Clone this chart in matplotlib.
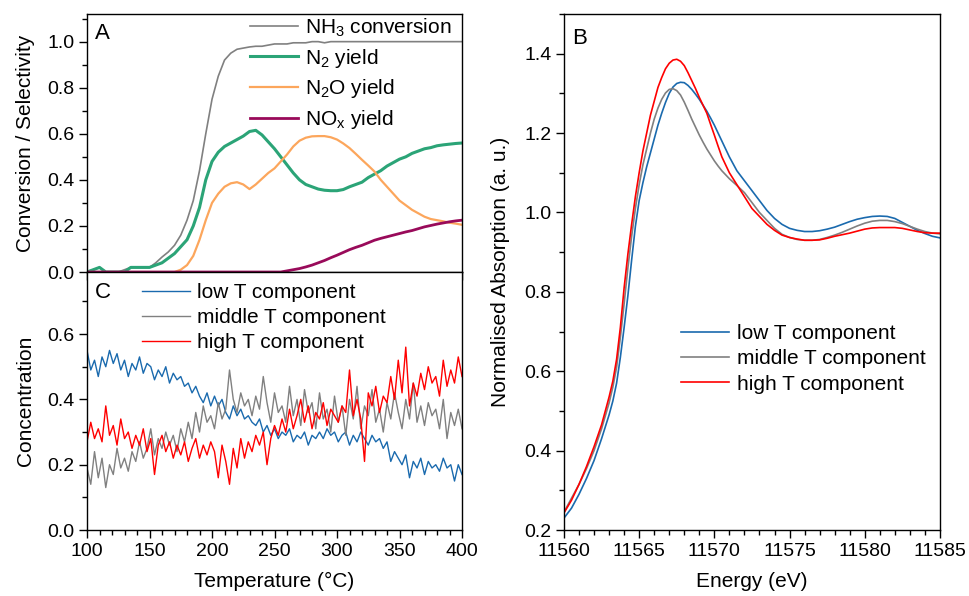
import numpy as np
import matplotlib
matplotlib.use("Agg")
import matplotlib.pyplot as plt
from matplotlib.ticker import MultipleLocator, FormatStrFormatter

plt.rcParams['font.family'] = ['Liberation Sans', 'DejaVu Sans']
plt.rcParams['mathtext.fontset'] = 'custom'
plt.rcParams['mathtext.rm'] = 'Liberation Sans'
plt.rcParams['mathtext.it'] = 'Liberation Sans'

# ---- panel A: catalytic data, 5 degC steps ----
temp_a = list(range(100, 401, 5))
nh3_conv = [0.00, 0.01, 0.02, 0.00, 0.00, 0.00, 0.01, 0.02, 0.02, 0.02,
            0.02, 0.04, 0.065, 0.087, 0.116, 0.16, 0.225, 0.31, 0.44, 0.60,
            0.75, 0.85, 0.92, 0.95, 0.967, 0.972, 0.977, 0.98, 0.98, 0.985,
            0.99, 0.99, 0.99, 0.995, 0.995, 0.995, 1.0, 1.0, 0.995, 1.0,
            1.0, 1.0, 1.0, 1.0, 1.0, 1.0, 1.0, 1.0, 1.0, 1.0,
            1.0, 1.0, 1.0, 1.0, 1.0, 1.0, 1.0, 1.0, 1.0, 1.0, 1.0]
n2_yield = [0.00, 0.01, 0.02, 0.00, 0.00, 0.00, 0.00, 0.02, 0.02, 0.02,
            0.02, 0.03, 0.04, 0.06, 0.08, 0.11, 0.14, 0.20, 0.28, 0.40,
            0.48, 0.52, 0.545, 0.56, 0.575, 0.59, 0.61, 0.615, 0.595, 0.565,
            0.535, 0.50, 0.465, 0.43, 0.40, 0.38, 0.37, 0.36, 0.355, 0.353,
            0.353, 0.358, 0.37, 0.38, 0.39, 0.41, 0.425, 0.44, 0.46, 0.475,
            0.49, 0.50, 0.515, 0.525, 0.535, 0.54, 0.548, 0.552, 0.555, 0.558, 0.56]
n2o_yield = [0.0, 0.0, 0.0, 0.0, 0.0, 0.0, 0.0, 0.0, 0.0, 0.0,
             0.0, 0.0, 0.0, 0.0, 0.0, 0.01, 0.03, 0.07, 0.14, 0.225,
             0.30, 0.34, 0.37, 0.385, 0.39, 0.38, 0.36, 0.38, 0.405, 0.43,
             0.45, 0.48, 0.51, 0.545, 0.57, 0.583, 0.589, 0.59, 0.59, 0.585,
             0.575, 0.558, 0.538, 0.513, 0.487, 0.462, 0.436, 0.40, 0.37, 0.34,
             0.31, 0.29, 0.27, 0.255, 0.24, 0.23, 0.225, 0.22, 0.214, 0.21, 0.205]
nox_yield = [0.0, 0.0, 0.0, 0.0, 0.0, 0.0, 0.0, 0.0, 0.0, 0.0,
             0.0, 0.0, 0.0, 0.0, 0.0, 0.0, 0.0, 0.0, 0.0, 0.0,
             0.0, 0.0, 0.0, 0.0, 0.0, 0.0, 0.0, 0.0, 0.0, 0.0,
             0.0, 0.0, 0.005, 0.01, 0.015, 0.022, 0.03, 0.04, 0.05, 0.062,
             0.073, 0.085, 0.097, 0.107, 0.116, 0.127, 0.138, 0.146, 0.153, 0.16,
             0.167, 0.174, 0.18, 0.188, 0.196, 0.202, 0.208, 0.213, 0.218, 0.222, 0.225]

# ---- panel C: component concentrations, 3 degC steps ----
temp_c = list(range(100, 401, 3))
low_t = [0.55, 0.49, 0.52, 0.47, 0.53, 0.50, 0.55, 0.51, 0.54, 0.49,
         0.52, 0.47, 0.51, 0.49, 0.53, 0.48, 0.51, 0.50, 0.46, 0.49,
         0.47, 0.50, 0.45, 0.48, 0.46, 0.47, 0.44, 0.45, 0.42, 0.44,
         0.41, 0.39, 0.42, 0.38, 0.41, 0.38, 0.40, 0.36, 0.34, 0.38,
         0.35, 0.37, 0.34, 0.35, 0.33, 0.32, 0.34, 0.30, 0.32, 0.29,
         0.31, 0.28, 0.30, 0.29, 0.31, 0.27, 0.29, 0.28, 0.30, 0.26,
         0.29, 0.28, 0.30, 0.28, 0.31, 0.29, 0.30, 0.27, 0.29, 0.30,
         0.26, 0.29, 0.27, 0.30, 0.28, 0.26, 0.29, 0.27, 0.28, 0.25,
         0.27, 0.21, 0.24, 0.22, 0.20, 0.23, 0.16, 0.21, 0.19, 0.22,
         0.17, 0.21, 0.19, 0.20, 0.18, 0.22, 0.19, 0.20, 0.15, 0.20, 0.17]
mid_t = [0.19, 0.14, 0.24, 0.16, 0.22, 0.13, 0.20, 0.17, 0.25, 0.19,
         0.22, 0.18, 0.24, 0.21, 0.27, 0.22, 0.25, 0.31, 0.23, 0.28,
         0.25, 0.30, 0.26, 0.29, 0.24, 0.31, 0.27, 0.33, 0.28, 0.36,
         0.30, 0.38, 0.33, 0.35, 0.31, 0.39, 0.34, 0.37, 0.49, 0.40,
         0.36, 0.42, 0.38, 0.40, 0.35, 0.41, 0.37, 0.47, 0.39, 0.33,
         0.42, 0.36, 0.38, 0.33, 0.44, 0.35, 0.40, 0.32, 0.43, 0.36,
         0.39, 0.31, 0.42, 0.34, 0.37, 0.30, 0.41, 0.33, 0.38, 0.29,
         0.40, 0.34, 0.44, 0.31, 0.38, 0.35, 0.43, 0.33, 0.37, 0.30,
         0.39, 0.34, 0.42, 0.36, 0.31, 0.40, 0.34, 0.45, 0.33, 0.38,
         0.32, 0.39, 0.35, 0.37, 0.31, 0.40, 0.28, 0.36, 0.32, 0.37, 0.31]
high_t = [0.27, 0.33, 0.28, 0.31, 0.27, 0.38, 0.29, 0.32, 0.26, 0.34,
          0.28, 0.30, 0.25, 0.29, 0.26, 0.31, 0.24, 0.28, 0.17, 0.26,
          0.29, 0.24, 0.27, 0.22, 0.26, 0.23, 0.27, 0.21, 0.25, 0.28,
          0.22, 0.26, 0.23, 0.27, 0.24, 0.16, 0.26, 0.21, 0.14, 0.25,
          0.19, 0.28, 0.22, 0.27, 0.24, 0.29, 0.26, 0.30, 0.20, 0.28,
          0.32, 0.29, 0.34, 0.30, 0.37, 0.31, 0.35, 0.40, 0.33, 0.38,
          0.31, 0.36, 0.34, 0.39, 0.32, 0.37, 0.35, 0.33, 0.38, 0.36,
          0.49, 0.35, 0.40, 0.34, 0.21, 0.42, 0.38, 0.44, 0.36, 0.41,
          0.39, 0.47, 0.40, 0.52, 0.42, 0.56, 0.38, 0.45, 0.41, 0.48,
          0.43, 0.50, 0.45, 0.47, 0.41, 0.52, 0.44, 0.49, 0.45, 0.53, 0.47]

# ---- panel B: XANES of components (finer steps around the white line) ----
energy = ([11560 + 0.5 * i for i in range(6)]
          + [11563 + 0.25 * i for i in range(32)]
          + [11571 + 0.5 * i for i in range(29)])
xanes_low = [0.23, 0.255, 0.29, 0.33, 0.375, 0.43,
             0.49, 0.525, 0.57, 0.635, 0.71, 0.79, 0.88, 0.965,
             1.03, 1.075, 1.115, 1.15, 1.185, 1.22, 1.25, 1.277,
             1.30, 1.316, 1.325, 1.328, 1.327, 1.32, 1.31, 1.298,
             1.285, 1.27, 1.255, 1.238, 1.22, 1.20, 1.18, 1.16,
             1.14, 1.105, 1.08, 1.055, 1.03, 1.005, 0.985, 0.97,
             0.96, 0.955, 0.952, 0.952, 0.954, 0.958, 0.963, 0.97, 0.977, 0.983,
             0.987, 0.99, 0.991, 0.99, 0.985, 0.975, 0.965, 0.955, 0.947, 0.94, 0.936]
xanes_mid = [0.245, 0.28, 0.315, 0.355, 0.40, 0.455,
             0.52, 0.56, 0.61, 0.685, 0.77, 0.86, 0.94, 1.01,
             1.07, 1.12, 1.16, 1.20, 1.235, 1.263, 1.285, 1.301,
             1.31, 1.312, 1.307, 1.296, 1.278, 1.257, 1.235, 1.215,
             1.195, 1.177, 1.16, 1.145, 1.13, 1.117, 1.105, 1.095,
             1.085, 1.068, 1.05, 1.025, 1.0, 0.98, 0.96, 0.945,
             0.937, 0.932, 0.93, 0.93, 0.932, 0.937, 0.943, 0.95, 0.958, 0.966,
             0.973, 0.978, 0.98, 0.98, 0.977, 0.972, 0.965, 0.958, 0.952, 0.948, 0.946]
xanes_high = [0.243, 0.275, 0.315, 0.36, 0.41, 0.465,
              0.535, 0.575, 0.63, 0.71, 0.81, 0.895, 0.97, 1.04,
              1.10, 1.155, 1.20, 1.245, 1.28, 1.315, 1.34, 1.362,
              1.376, 1.384, 1.386, 1.381, 1.37, 1.352, 1.332, 1.312,
              1.29, 1.27, 1.25, 1.222, 1.195, 1.167, 1.14, 1.12,
              1.10, 1.07, 1.04, 1.01, 0.99, 0.97, 0.955, 0.943,
              0.937, 0.933, 0.93, 0.93, 0.931, 0.935, 0.94, 0.944, 0.948, 0.953,
              0.958, 0.961, 0.962, 0.962, 0.962, 0.96, 0.956, 0.952, 0.949, 0.948, 0.948]

c_gray = '#808080'
c_green = '#2ba477'
c_orange = '#fca65c'
c_purple = '#990a5a'
c_blue = '#1a6aae'
c_red = '#ff0000'

fs = 15      # labels and legends
fs_tick = 14

fig = plt.figure(figsize=(9.69, 5.96), dpi=100)
ax_a = fig.add_axes([0.0898, 0.5436, 0.387, 0.4329])
ax_c = fig.add_axes([0.0898, 0.1107, 0.387, 0.4329], sharex=ax_a)
ax_b = fig.add_axes([0.582, 0.1107, 0.388, 0.8658])

leg_kw = dict(frameon=False, fontsize=fs, handlelength=2.3, handletextpad=0.35)

# A
ax_a.plot(temp_a, nh3_conv, color=c_gray, lw=1.2, label='NH$_3$ conversion')
ax_a.plot(temp_a, n2_yield, color=c_green, lw=2.2, label='N$_2$ yield')
ax_a.plot(temp_a, n2o_yield, color=c_orange, lw=1.6, label='N$_2$O yield')
ax_a.plot(temp_a, nox_yield, color=c_purple, lw=2.0, label='NO$_x$ yield')
ax_a.set_ylim(0, 1.12)
ax_a.set_xlim(100, 400)
ax_a.yaxis.set_major_locator(MultipleLocator(0.2))
ax_a.yaxis.set_minor_locator(MultipleLocator(0.1))
ax_a.set_ylabel('Conversion / Selectivity', fontsize=fs, labelpad=9)
ax_a.tick_params(axis='x', labelbottom=False)
ax_a.legend(loc='upper right', labelspacing=0.37, borderaxespad=0.1,
            bbox_to_anchor=(1.0, 1.03), **leg_kw)
ax_a.text(0.022, 0.925, 'A', transform=ax_a.transAxes, fontsize=16, va='center')

# C
ax_c.plot(temp_c, low_t, color=c_blue, lw=1.0, label='low T component')
ax_c.plot(temp_c, mid_t, color=c_gray, lw=1.0, label='middle T component')
ax_c.plot(temp_c, high_t, color=c_red, lw=1.0, label='high T component')
ax_c.set_ylim(0, 0.79)
ax_c.set_xlim(100, 400)
ax_c.xaxis.set_major_locator(MultipleLocator(50))
ax_c.xaxis.set_minor_locator(MultipleLocator(10))
ax_c.yaxis.set_major_locator(MultipleLocator(0.2))
ax_c.yaxis.set_minor_locator(MultipleLocator(0.1))
ax_c.set_ylabel('Concentration', fontsize=fs, labelpad=9)
ax_c.set_xlabel('Temperature (°C)', fontsize=fs, labelpad=9)
ax_c.legend(loc='upper left', labelspacing=0.3, borderaxespad=0.0,
            bbox_to_anchor=(0.125, 0.99), **leg_kw)
ax_c.text(0.022, 0.92, 'C', transform=ax_c.transAxes, fontsize=16, va='center')

# B
ax_b.plot(energy, xanes_low, color=c_blue, lw=1.2, label='low T component')
ax_b.plot(energy, xanes_mid, color=c_gray, lw=1.2, label='middle T component')
ax_b.plot(energy, xanes_high, color=c_red, lw=1.2, label='high T component')
ax_b.set_xlim(11560, 11585)
ax_b.set_ylim(0.2, 1.5)
ax_b.xaxis.set_major_locator(MultipleLocator(5))
ax_b.xaxis.set_minor_locator(MultipleLocator(1))
ax_b.yaxis.set_major_locator(MultipleLocator(0.2))
ax_b.yaxis.set_minor_locator(MultipleLocator(0.1))
ax_b.set_xlabel('Energy (eV)', fontsize=fs, labelpad=9)
ax_b.set_ylabel('Normalised Absorption (a. u.)', fontsize=fs, labelpad=10)
ax_b.legend(loc='upper left', labelspacing=0.3, borderaxespad=0.0,
            bbox_to_anchor=(0.29, 0.415), **leg_kw)
ax_b.text(0.022, 0.952, 'B', transform=ax_b.transAxes, fontsize=16, va='center')

for ax in (ax_a, ax_c, ax_b):
    ax.tick_params(which='major', direction='out', length=5.5, width=1, labelsize=fs_tick)
    ax.tick_params(which='minor', direction='out', length=3.5, width=1)
    for sp in ax.spines.values():
        sp.set_linewidth(1.0)

ax_c.xaxis.set_major_formatter(FormatStrFormatter('%d'))
ax_b.xaxis.set_major_formatter(FormatStrFormatter('%d'))
for ax in (ax_a, ax_c, ax_b):
    ax.yaxis.set_major_formatter(FormatStrFormatter('%.1f'))

fig.savefig('out.png', dpi=100)
